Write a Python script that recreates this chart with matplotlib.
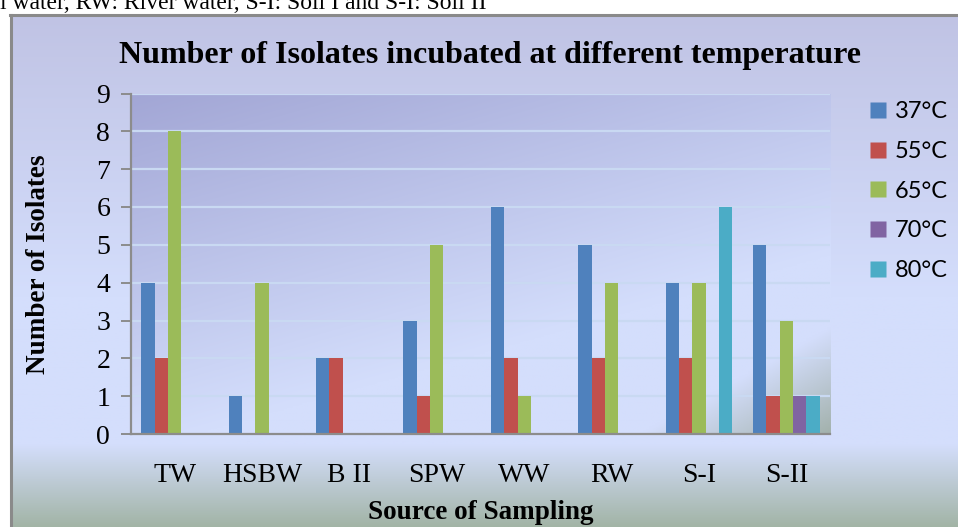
import numpy as np
import matplotlib
matplotlib.use("Agg")
import matplotlib.pyplot as plt
from matplotlib.colors import to_rgb
from matplotlib.lines import Line2D

categories = ["TW", "HSBW", "B II", "SPW", "WW", "RW", "S-I", "S-II"]
series_names = ["37°C", "55°C", "65°C", "70°C", "80°C"]
v37 = [4, 1, 2, 3, 6, 5, 4, 5]
v55 = [2, 0, 2, 1, 2, 2, 2, 1]
v65 = [8, 4, 0, 5, 1, 4, 4, 3]
v70 = [0, 0, 0, 0, 0, 0, 0, 1]
v80 = [0, 0, 0, 0, 0, 0, 6, 1]
series = [v37, v55, v65, v70, v80]
colors = ["#4F81BD", "#C0504D", "#9BBB59", "#8064A2", "#4BACC6"]
yticks = list(range(0, 10))

W, H = 958, 527
fig = plt.figure(figsize=(W / 100, H / 100), dpi=100)
fig.patch.set_facecolor("white")

# top caption strip (cropped by the figure edge)
fig.text(0.0, 1.0 - 9 / H, "l water, RW: River water, S-I: Soil I and S-I: Soil II",
         family="Liberation Serif", fontsize=17, va="baseline", ha="left", color="black")

# chart background with vertical gradient
bg = fig.add_axes([10 / W, 0, 1 - 10 / W, (H - 14) / H])
bg.set_axis_off()
n = 300
yy = np.linspace(0, 1, n)  # 0 top, 1 bottom
top = np.array(to_rgb("#C0C3E4"))
mid = np.array(to_rgb("#D4DEFC"))
bot = np.array(to_rgb("#A2B4A6"))
img = np.zeros((n, 2, 3))
for i, t in enumerate(yy):
    if t < 0.55:
        c = top + (mid - top) * (t / 0.55)
    elif t < 0.84:
        c = mid
    else:
        c = mid + (bot - mid) * ((t - 0.84) / 0.16)
    img[i, :, :] = c
bg.imshow(img, aspect="auto", extent=[0, 1, 0, 1], origin="upper")
bg.set_xlim(0, 1)
bg.set_ylim(0, 1)
bg.plot([0.0015, 0.0015], [0, 0.998], color="#8A8A8A", lw=2.2, clip_on=False)
bg.plot([0, 1], [0.998, 0.998], color="#8A8A8A", lw=2.2, clip_on=False)

ax = fig.add_axes([131 / W, (H - 434) / H, (830 - 131) / W, (434 - 93.5) / H])
ax.set_xlim(-0.5, len(categories) - 0.5)
ax.set_ylim(0, 9)

# plot area gradient
nx, ny = 240, 240
u = np.linspace(0, 1, nx)[None, :]
v = np.linspace(0, 1, ny)[:, None]
t = np.clip(0.55 * u + 0.95 * v, 0, 1)
dark = np.array(to_rgb("#A2A6D5"))
light = np.array(to_rgb("#D4DEFC"))
pimg = dark[None, None, :] + (light - dark)[None, None, :] * t[:, :, None]
gray = np.array(to_rgb("#A0AFA8"))
s = (u - 0.73) / 0.27 + (v - 0.69) / 0.31 - 1.0
g = np.clip(s, 0, 1) * 0.95
pimg = pimg * (1 - g[:, :, None]) + gray[None, None, :] * g[:, :, None]
ax.imshow(pimg, aspect="auto", extent=[-0.5, len(categories) - 0.5, 0, 9],
          origin="upper", zorder=0)

for yv in yticks[1:]:
    ax.axhline(yv, color="#C9D9F2", lw=1.6, zorder=1)

x = np.arange(len(categories))
w = 0.153
for i, (vals, col, name) in enumerate(zip(series, colors, series_names)):
    ax.bar(x + (i - 2) * w, vals, width=w, color=col, zorder=2, label=name,
           edgecolor="none")

for sp in ["top", "right"]:
    ax.spines[sp].set_visible(False)
for sp in ["left", "bottom"]:
    ax.spines[sp].set_color("#8C8C8C")
    ax.spines[sp].set_linewidth(1.6)
ax.spines["bottom"].set_zorder(3)

ax.set_yticks(yticks, [str(t_) for t_ in yticks])
ax.set_xticks(x, categories)
ax.tick_params(axis="y", direction="out", length=7, width=1.4, color="#8C8C8C", pad=8,
               labelsize=20, labelfontfamily="Liberation Serif")
ax.tick_params(axis="x", length=0, pad=21,
               labelsize=20, labelfontfamily="Liberation Serif")

ax.set_xlabel("Source of Sampling", family="Liberation Serif", fontsize=19.5,
              fontweight="bold")
ax.xaxis.set_label_coords(0.5, (434 - 500) / 340.5)
ax.set_ylabel("Number of Isolates", family="Liberation Serif", fontsize=19.5,
              fontweight="bold")
ax.yaxis.set_label_coords((51 - 131) / 699, 0.5)

fig.text(490 / W, 1 - 55 / H, "Number of Isolates incubated at different temperature",
         family="Liberation Serif", fontsize=23, fontweight="bold", ha="center", va="center")

handles = [Line2D([0], [0], marker="s", linestyle="none", markersize=11.5,
                  markerfacecolor=c, markeredgecolor="none") for c in colors]
leg = fig.legend(handles, series_names, loc="upper left",
                 bbox_to_anchor=(857 / W, 1 - 92 / H), frameon=False,
                 prop={"family": "Lato", "size": 17}, labelspacing=0.79,
                 handlelength=1.0, handletextpad=0.2, borderaxespad=0)

fig.savefig("out.png", dpi=100)
